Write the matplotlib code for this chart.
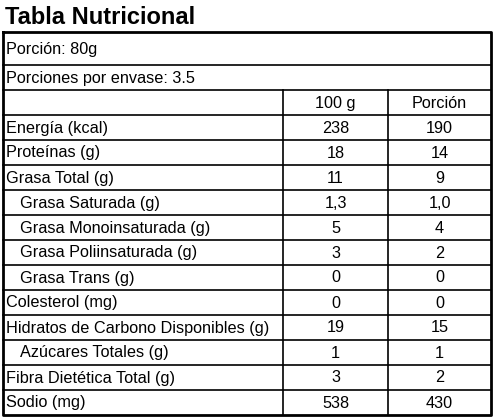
import matplotlib
matplotlib.use("Agg")
import matplotlib.pyplot as plt

title = "Tabla Nutricional"
portion = "Porción: 80g"
servings = "Porciones por envase: 3.5"
col_headers = ["100 g", "Porción"]
nutrients = ["Energía (kcal)", "Proteínas (g)", "Grasa Total (g)", "Grasa Saturada (g)",
             "Grasa Monoinsaturada (g)", "Grasa Poliinsaturada (g)", "Grasa Trans (g)",
             "Colesterol (mg)", "Hidratos de Carbono Disponibles (g)", "Azúcares Totales (g)",
             "Fibra Dietética Total (g)", "Sodio (mg)"]
indented = [False, False, False, True, True, True, True, False, False, True, False, False]
per100 = ["238", "18", "11", "1,3", "5", "3", "0", "0", "19", "1", "3", "538"]
perportion = ["190", "14", "9", "1,0", "4", "2", "0", "0", "15", "1", "2", "430"]

W, H = 495, 417
fig = plt.figure(figsize=(W/100, H/100), dpi=100)
ax = fig.add_axes([0, 0, 1, 1])
ax.set_xlim(0, W); ax.set_ylim(H, 0); ax.axis("off")

ff = "Liberation Sans"
L, R, C1, C2 = 2.5, 491, 283, 388
top = 31.5
ys = [top, top+33, top+58]
for i in range(len(nutrients)+1):
    ys.append(top+58+25*(i+1))
bottom = ys[-1]

ax.text(5, 17, title, fontsize=17, fontweight="bold", family=ff, va="center", ha="left")
for y in ys[1:-1]:
    ax.plot([L, R], [y, y], color="black", lw=1.2)
ax.plot([L, R, R, L, L], [top, top, bottom, bottom, top], color="black", lw=2)
ax.plot([C1, C1], [ys[2], bottom], color="black", lw=1.2)
ax.plot([C2, C2], [ys[2], bottom], color="black", lw=1.2)

fs = 11.7
ax.text(6, (ys[0]+ys[1])/2+1, portion, fontsize=fs, family=ff, va="center")
ax.text(6, (ys[1]+ys[2])/2+1, servings, fontsize=fs, family=ff, va="center")
yc = (ys[2]+ys[3])/2+1
ax.text((C1+C2)/2, yc, col_headers[0], fontsize=fs, family=ff, va="center", ha="center")
ax.text((C2+R)/2, yc, col_headers[1], fontsize=fs, family=ff, va="center", ha="center")
for i, name in enumerate(nutrients):
    yc = (ys[3+i]+ys[4+i])/2+1
    ax.text(20 if indented[i] else 6, yc, name, fontsize=fs, family=ff, va="center")
    ax.text((C1+C2)/2, yc, per100[i], fontsize=fs, family=ff, va="center", ha="center")
    ax.text((C2+R)/2, yc, perportion[i], fontsize=fs, family=ff, va="center", ha="center")

fig.savefig("out.png", dpi=100, facecolor="white")
